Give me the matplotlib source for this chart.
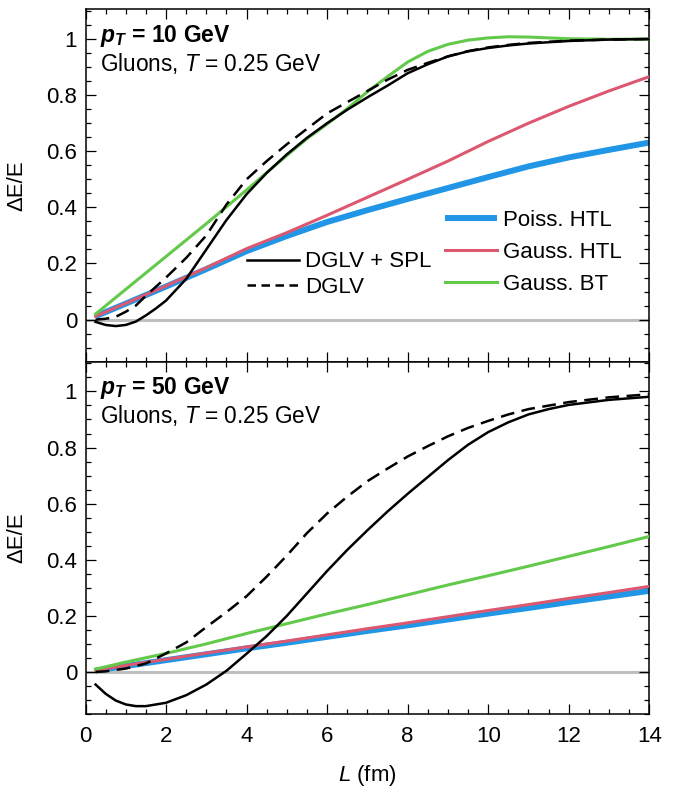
import matplotlib
matplotlib.use('Agg')
import matplotlib.pyplot as plt
from matplotlib.lines import Line2D
from matplotlib.ticker import MultipleLocator, FuncFormatter

plt.rcParams['font.family'] = ['Liberation Sans', 'DejaVu Sans']
plt.rcParams['mathtext.fontset'] = 'custom'
plt.rcParams['mathtext.rm'] = 'Liberation Sans'
plt.rcParams['mathtext.it'] = 'Liberation Sans:italic'
plt.rcParams['mathtext.bf'] = 'Liberation Sans:bold'
plt.rcParams['mathtext.bfit'] = 'Liberation Sans:italic:bold'

# ---- pT = 10 GeV (top panel) ----
L_spl10 = [0.25, 0.5, 0.75, 1.0, 1.25, 1.5, 1.75, 2.0, 2.5, 3.0, 3.5, 4.0, 4.5, 5.0, 5.5,
           6.0, 6.5, 7.0, 7.5, 8.0, 8.5, 9.0, 9.5, 10.0, 10.5, 11.0, 12.0, 13.0, 14.0]
spl10 = [-0.008, -0.019, -0.023, -0.019, -0.007, 0.015, 0.04, 0.068, 0.145, 0.25, 0.355,
         0.447, 0.523, 0.589, 0.648, 0.7, 0.748, 0.792, 0.834, 0.878, 0.91, 0.938, 0.956,
         0.968, 0.977, 0.984, 0.993, 0.998, 1.0]

L_dglv10 = [0.25, 0.5, 0.75, 1.0, 1.25, 1.5, 2.0, 2.5, 3.0, 3.5, 4.0, 4.5, 5.0, 5.5, 6.0,
            6.5, 7.0, 7.5, 8.0, 8.5, 9.0, 9.5, 10.0, 10.5, 11.0, 12.0, 13.0, 14.0]
dglv10 = [0.0, 0.003, 0.01, 0.028, 0.05, 0.085, 0.15, 0.22, 0.3, 0.41, 0.5, 0.565, 0.625,
          0.68, 0.735, 0.775, 0.815, 0.855, 0.89, 0.915, 0.938, 0.957, 0.97, 0.979, 0.986,
          0.994, 0.998, 1.0]

L_bt10 = [0.25, 1.0, 2.0, 3.0, 4.0, 4.5, 5.0, 5.5, 6.0, 6.5, 7.0, 7.5, 8.0, 8.5, 9.0, 9.5,
          10.0, 10.5, 11.0, 11.5, 12.0, 13.0, 14.0]
bt10 = [0.02, 0.108, 0.225, 0.342, 0.462, 0.524, 0.585, 0.645, 0.697, 0.752, 0.812, 0.866,
        0.918, 0.956, 0.981, 0.996, 1.004, 1.008, 1.007, 1.004, 1.001, 0.999, 1.0]

L_htl10 = [0.25, 1.0, 2.0, 3.0, 4.0, 5.0, 6.0, 7.0, 8.0, 9.0, 10.0, 11.0, 12.0, 13.0, 14.0]
poiss10 = [0.012, 0.057, 0.118, 0.18, 0.244, 0.298, 0.348, 0.39, 0.43, 0.469, 0.508, 0.546,
           0.578, 0.605, 0.631]
gauss10 = [0.012, 0.058, 0.12, 0.185, 0.253, 0.31, 0.372, 0.436, 0.5, 0.565, 0.635, 0.7,
           0.76, 0.815, 0.866]

# ---- pT = 50 GeV (bottom panel) ----
L_spl50 = [0.25, 0.5, 0.75, 1.0, 1.25, 1.5, 2.0, 2.5, 3.0, 3.5, 4.0, 4.5, 5.0, 5.5, 6.0,
           6.5, 7.0, 7.5, 8.0, 8.5, 9.0, 9.5, 10.0, 10.5, 11.0, 11.5, 12.0, 13.0, 14.0]
spl50 = [-0.045, -0.078, -0.102, -0.116, -0.122, -0.122, -0.11, -0.083, -0.045, 0.004,
         0.065, 0.128, 0.2, 0.28, 0.36, 0.435, 0.505, 0.572, 0.635, 0.695, 0.755, 0.81,
         0.855, 0.89, 0.918, 0.937, 0.952, 0.97, 0.981]

L_dglv50 = [0.25, 0.5, 1.0, 1.5, 2.0, 2.5, 3.0, 3.5, 4.0, 4.5, 5.0, 5.5, 6.0, 6.5, 7.0, 7.5,
            8.0, 8.5, 9.0, 9.5, 10.0, 10.5, 11.0, 12.0, 13.0, 14.0]
dglv50 = [0.0, 0.002, 0.012, 0.03, 0.066, 0.105, 0.16, 0.213, 0.27, 0.34, 0.415, 0.495,
          0.565, 0.625, 0.68, 0.725, 0.768, 0.805, 0.84, 0.87, 0.895, 0.918, 0.937, 0.962,
          0.979, 0.99]

L_lin50 = [0.25, 1.0, 2.0, 3.0, 4.0, 5.0, 6.0, 7.0, 8.0, 9.0, 10.0, 11.0, 12.0, 13.0, 14.0]
bt50 = [0.01, 0.035, 0.066, 0.1, 0.137, 0.172, 0.207, 0.24, 0.275, 0.31, 0.343, 0.377,
        0.412, 0.447, 0.483]
poiss50 = [0.005, 0.021, 0.042, 0.063, 0.084, 0.104, 0.125, 0.146, 0.166, 0.187, 0.208,
           0.228, 0.249, 0.269, 0.289]
gauss50 = [0.006, 0.023, 0.045, 0.067, 0.089, 0.11, 0.132, 0.154, 0.175, 0.197, 0.219,
           0.24, 0.262, 0.283, 0.305]

c_blue = '#2196e6'
c_red = '#dc5870'
c_green = '#62c94a'

fig = plt.figure(figsize=(6.76, 7.92), dpi=100)
ax1 = fig.add_axes([0.1265, 0.5433, 0.834, 0.4450])
ax2 = fig.add_axes([0.1265, 0.0985, 0.834, 0.4448])

panels = [
    (ax1, '10', L_htl10, poiss10, L_htl10, gauss10, L_bt10, bt10, L_dglv10, dglv10, L_spl10, spl10),
    (ax2, '50', L_lin50, poiss50, L_lin50, gauss50, L_lin50, bt50, L_dglv50, dglv50, L_spl50, spl50),
]

for ax, pt, Lp, yp, Lg, yg, Lb, yb, Ld, yd, Ls, ys in panels:
    ax.axhline(0, color='#bfbfbf', lw=2.2, zorder=1)
    ax.plot(Lp, yp, color=c_blue, lw=4.3, solid_capstyle='butt', label='Poiss. HTL', zorder=2)
    ax.plot(Lg, yg, color=c_red, lw=2.2, label='Gauss. HTL', zorder=3)
    ax.plot(Lb, yb, color=c_green, lw=2.2, label='Gauss. BT', zorder=3)
    ax.plot(Ld, yd, color='black', lw=1.8, dashes=(5.5, 3), label='DGLV', zorder=4)
    ax.plot(Ls, ys, color='black', lw=1.8, label='DGLV + SPL', zorder=5)

    ax.set_xlim(0, 14)
    ax.set_ylim(-0.15, 1.106)
    ax.xaxis.set_major_locator(MultipleLocator(2))
    ax.xaxis.set_minor_locator(MultipleLocator(0.5))
    ax.yaxis.set_major_locator(MultipleLocator(0.2))
    ax.yaxis.set_minor_locator(MultipleLocator(0.05))
    ax.yaxis.set_major_formatter(FuncFormatter(lambda v, p: f'{v:g}'))
    ax.tick_params(which='both', direction='in', top=True, right=True, width=0.9,
                   labelsize=16)
    ax.tick_params(which='major', length=7.2)
    ax.tick_params(which='minor', length=3.6)
    ax.tick_params(axis='y', pad=6)
    ax.tick_params(axis='x', pad=9)
    for s in ax.spines.values():
        s.set_linewidth(1.1)

    ax.text(0.026, 0.908, r'$\mathbfit{p}_{\mathbfit{T}}$' + f' = {pt} GeV', transform=ax.transAxes,
            fontsize=16.5, fontweight='bold', va='baseline', ha='left')
    ax.text(0.026, 0.826, r'Gluons, $T$ = 0.25 GeV', transform=ax.transAxes,
            fontsize=16.3, va='baseline', ha='left')
    ax.set_ylabel('ΔE/E', fontsize=16)
    ax.yaxis.set_label_coords(-0.104, 0.5)

ax1.tick_params(axis='x', labelbottom=False)
ax2.set_xlabel(r'$L$ (fm)', fontsize=16)
ax2.xaxis.set_label_coords(0.499, -0.14)

h, lab = ax1.get_legend_handles_labels()
h_dash = Line2D([], [], color='black', lw=1.8, dashes=(3.4, 2.2))
leg1 = ax1.legend([h[4], h_dash], [lab[4], lab[3]], loc='center left',
                  bbox_to_anchor=(0.286, 0.247), frameon=False, fontsize=16,
                  handlelength=2.35, handletextpad=0.27, labelspacing=0.2,
                  borderpad=0, borderaxespad=0)
ax1.add_artist(leg1)
ax1.legend(h[:3], lab[:3], loc='center left', bbox_to_anchor=(0.638, 0.31),
           frameon=False, fontsize=16, handlelength=2.35, handletextpad=0.25,
           labelspacing=0.5, borderpad=0, borderaxespad=0)

fig.savefig('out.png', dpi=100)
